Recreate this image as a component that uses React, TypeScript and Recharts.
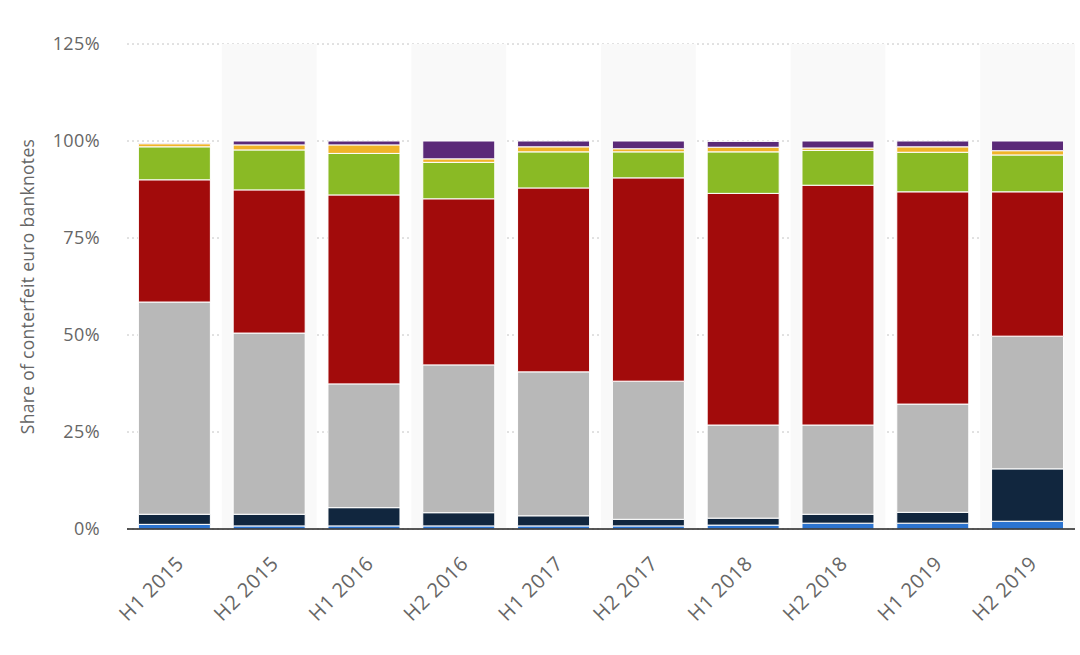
import { BarChart, Bar, XAxis, YAxis, CartesianGrid, ReferenceArea } from "recharts";

const categories = ["H1 2015", "H2 2015", "H1 2016", "H2 2016", "H1 2017", "H2 2017", "H1 2018", "H2 2018", "H1 2019", "H2 2019"];

// share of counterfeits per denomination, in %
const eur5 = [1.2, 0.8, 0.8, 0.8, 0.8, 0.8, 1.0, 1.5, 1.5, 2.0];
const eur10 = [2.6, 3.0, 4.7, 3.4, 2.6, 1.7, 1.8, 2.3, 2.8, 13.5];
const eur20 = [54.7, 46.7, 31.9, 38.1, 37.1, 35.6, 24.0, 23.0, 27.9, 34.2];
const eur50 = [31.5, 36.9, 48.7, 42.8, 47.4, 52.4, 59.7, 61.8, 54.7, 37.2];
const eur100 = [8.5, 10.3, 10.7, 9.4, 9.3, 6.7, 10.7, 9.0, 10.2, 9.5];
const eur200 = [0.8, 1.3, 2.2, 0.9, 1.3, 0.8, 1.2, 0.6, 1.4, 1.1];
const eur500 = [0.2, 1.0, 1.0, 4.6, 1.5, 2.0, 1.5, 1.8, 1.5, 2.5];

const yTicks = [0, 25, 50, 75, 100, 125];

const series = [
  { key: "eur5", name: "€5", values: eur5, color: "#2c74d0" },
  { key: "eur10", name: "€10", values: eur10, color: "#11263e" },
  { key: "eur20", name: "€20", values: eur20, color: "#b8b8b8" },
  { key: "eur50", name: "€50", values: eur50, color: "#a20b0b" },
  { key: "eur100", name: "€100", values: eur100, color: "#8aba25" },
  { key: "eur200", name: "€200", values: eur200, color: "#f0b429" },
  { key: "eur500", name: "€500", values: eur500, color: "#5b2a78" },
];

const data = categories.map((period, i) => {
  const row: Record<string, string | number> = { period };
  series.forEach((s) => {
    row[s.key] = s.values[i];
  });
  return row;
});

const FONT = "'Open Sans', sans-serif";

function XTick({ x, y, payload }: { x?: number; y?: number; payload?: { value: string } }) {
  return (
    <g transform={`translate(${(x ?? 0) + 5},${(y ?? 0) + 22})`}>
      <text
        x={0}
        y={0}
        dy={8}
        textAnchor="end"
        transform="rotate(-45)"
        fill="#666"
        fontSize={20}
        letterSpacing={0.6}
        fontFamily={FONT}
      >
        {payload?.value}
      </text>
    </g>
  );
}

export default function App() {
  return (
    <div style={{ position: "absolute", left: 0, top: 0, background: "#fff" }}>
      <BarChart
        width={1080}
        height={655}
        data={data}
        margin={{ top: 44, right: 5, left: 0, bottom: 0 }}
        barCategoryGap="12%"
      >
        {categories.map((c, i) =>
          i % 2 === 1 ? (
            <ReferenceArea key={c} x1={c} x2={c} y1={0} y2={125} fill="#f9f9f9" fillOpacity={1} stroke="none" />
          ) : null
        )}
        <CartesianGrid vertical={false} stroke="#c4c4c4" strokeDasharray="2 3" />
        <XAxis
          dataKey="period"
          interval={0}
          tick={<XTick />}
          tickLine={false}
          axisLine={{ stroke: "#222", strokeWidth: 1.5 }}
          height={126}
        />
        <YAxis
          width={127}
          domain={[0, 125]}
          ticks={yTicks}
          tickFormatter={(v: number) => `${v}%`}
          tick={{ fontSize: 18, fill: "#666", fontFamily: FONT, letterSpacing: 0.4 }}
          tickLine={false}
          axisLine={false}
          tickMargin={21}
          label={{
            value: "Share of conterfeit euro banknotes",
            angle: -90,
            position: "insideLeft",
            offset: 28,
            style: { textAnchor: "middle", fontSize: 17.5, fill: "#666", fontFamily: FONT, letterSpacing: 0.3 },
          }}
        />
        {series.map((s) => (
          <Bar
            key={s.key}
            dataKey={s.key}
            name={s.name}
            stackId="a"
            fill={s.color}
            stroke="#fff"
            strokeWidth={1}
            isAnimationActive={false}
          />
        ))}
      </BarChart>
    </div>
  );
}
